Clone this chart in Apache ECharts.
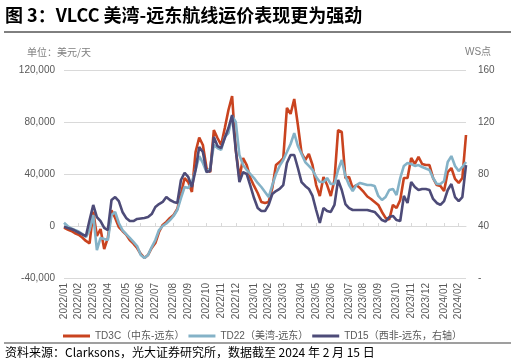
<!DOCTYPE html>
<html><head><meta charset="utf-8">
<script src="https://cdn.jsdelivr.net/npm/echarts@6/dist/echarts.min.js"></script>
<style>html,body{margin:0;padding:0;background:#fff}#c{width:516px;height:364px}</style>
</head><body><div id="c"></div>
<script>
// Weekly observations, 2022-01-07 .. 2024-02-16
const startDate = '2022-01-07';
const weekCount = 111;
// TD3C (Middle East - Far East), USD/day
const td3c = [-1300,-2700,-3800,-5600,-6700,-8800,-11500,-13300,11000,-7700,
-2300,-17700,-9200,12000,6200,-800,-3800,-6500,-10800,-13500,
-16900,-21500,-24600,-22300,-16900,-13100,-4600,800,3100,6200,
8500,13100,24600,36900,33800,26200,56900,68100,62300,44600,
41500,73800,67700,62300,75400,89200,100000,58500,36900,52300,
46900,36900,30800,25400,18500,17700,18500,29200,46900,49200,
52300,90800,86200,97700,77700,56200,50800,55400,46900,31500,
23100,37700,31500,23100,35400,73800,72300,36900,37700,29200,
31500,29200,26200,22700,20800,18500,16200,10800,6200,5000,
16200,13800,20000,36900,36900,52300,47700,53100,47700,46900,
46900,36900,31500,30800,26900,41500,44600,36200,33100,36900,
70000];
// TD22 (US Gulf - Far East), USD/day
const td22 = [2500,0,-1900,-3100,-4200,-6200,-8500,-3100,8500,-18500,
-9200,-10000,-10800,8500,10800,2300,-3100,-6200,-9200,-12300,
-15400,-22300,-24600,-22300,-16200,-10800,-3100,0,1900,4600,
7700,12300,21500,30000,29200,33800,43100,53800,48500,41500,
44600,62300,60000,58500,68500,71500,84600,80000,54600,46900,
43100,40000,36900,33100,30000,26200,22300,31500,40000,46200,
50800,56900,63100,71500,61500,55400,49200,46200,43100,37700,
33800,33800,36900,32300,32300,43100,50800,38500,31500,26900,
31500,33100,32300,31500,31500,30800,23100,20000,22300,27700,
28500,23800,36900,46200,48500,47700,46200,46900,45400,44200,
43100,36900,32300,32300,34600,49200,53800,46200,42300,45400,
49200];
// TD15 (West Africa - Far East), WS points, right axis
const td15 = [39.5,38.5,37.7,36.5,35,33.5,32.3,44.6,56.2,46.9,
43.8,38.5,36.9,60,62.3,59.2,50.8,46.2,43.8,43.8,
45.4,45.8,46.2,46.9,49.2,54.6,56.9,58.5,62.3,60,
58.5,57.7,75.4,80.8,77.7,70,83.1,100.8,96.9,81.5,
82.3,108.5,101.5,100,107.7,115.4,125.4,98.5,73.8,81.5,
80,70.8,61.5,53.8,51.5,51.5,56.2,64.6,66.9,68.5,
71.5,88.5,94.6,94.6,84.6,73.8,70.8,68.5,63.1,52.3,
42.3,53.8,51.5,50.8,56.2,75.4,67.7,56.9,53.8,52.3,
52.3,52.3,52.3,52.3,51.5,50.8,47.7,44.6,43.5,46.9,
47.7,44.6,43.8,63.1,57.7,73.8,70,67.7,68.5,68.5,
67.7,60.8,57.7,56.2,59.2,67.7,72.3,62.3,59.2,62.3,
86.9];
const seriesNames = ['TD3C（中东-远东）','TD22（美湾-远东）','TD15（西非-远东，右轴）'];
const leftTicks = {min:-40000, max:120000, interval:40000};
const rightTicks = {min:0, max:160, interval:40};

const categories = [];
(function(){
  const d = new Date(startDate + 'T00:00:00Z');
  for (let i = 0; i < weekCount; i++) {
    const t = new Date(d.getTime() + i*7*86400000);
    categories.push(t.toISOString().slice(0,10));
  }
})();
const firstOfMonth = categories.map((c,i)=> i===0 || c.slice(0,7)!==categories[i-1].slice(0,7));
const monthInterval = (idx)=> firstOfMonth[idx];

const FONT = "'Liberation Sans', Arial, 'Noto Sans CJK SC', sans-serif";
const C_RED = '#C9431F', C_BLUE = '#84B2C7', C_DARK = '#4D4B78';

const chart = echarts.init(document.getElementById('c'), null, {renderer:'canvas'});
chart.setOption({
  animation:false,
  textStyle:{fontFamily:FONT},
  grid:{left:64, right:50, top:70, bottom:86, containLabel:false},
  legend:{
    left:58, top:326, itemGap:4, itemWidth:27, itemHeight:3, icon:'rect',
    textStyle:{fontSize:10, color:'#595959', fontFamily:FONT},
    data:seriesNames
  },
  xAxis:[{
    type:'category', data:categories, boundaryGap:false,
    axisLine:{show:false, onZero:false}, axisTick:{show:false},
    axisLabel:{interval:monthInterval, rotate:90, fontSize:10, color:'#595959', margin:5,
      formatter:(v)=> v.slice(0,4)+'/'+v.slice(5,7)},
    splitLine:{show:false}
  },{
    type:'category', data:categories, boundaryGap:false, position:'top',
    axisLine:{show:true, onZero:true, lineStyle:{color:'#d9d9d9', width:1}},
    axisTick:{show:true, interval:monthInterval, length:3, lineStyle:{color:'#d9d9d9'}},
    axisLabel:{show:false}, splitLine:{show:false}
  }],
  yAxis:[{
    type:'value', min:leftTicks.min, max:leftTicks.max, interval:leftTicks.interval,
    axisLine:{show:false}, axisTick:{show:false},
    axisLabel:{fontSize:10, color:'#595959', margin:9,
      formatter:(v)=> v.toLocaleString('en-US')},
    splitLine:{lineStyle:{color:'#d9d9d9', width:1}}
  },{
    type:'value', min:rightTicks.min, max:rightTicks.max, interval:rightTicks.interval,
    axisLine:{show:false}, axisTick:{show:false},
    axisLabel:{fontSize:10, color:'#595959', margin:12,
      formatter:(v)=> v===0 ? '-' : String(v)},
    splitLine:{show:false}
  }],
  series:[
    {name:seriesNames[0], type:'line', data:td3c, yAxisIndex:0, xAxisIndex:0, symbol:'none',
     lineStyle:{color:C_RED, width:2.6}, itemStyle:{color:C_RED}},
    {name:seriesNames[1], type:'line', data:td22, yAxisIndex:0, xAxisIndex:0, symbol:'none',
     lineStyle:{color:C_BLUE, width:2.6}, itemStyle:{color:C_BLUE}},
    {name:seriesNames[2], type:'line', data:td15, yAxisIndex:1, xAxisIndex:0, symbol:'none',
     lineStyle:{color:C_DARK, width:2.6}, itemStyle:{color:C_DARK}}
  ],
  graphic:[
    {type:'text', left:5, top:6, style:{text:'图 3：VLCC 美湾-远东航线运价表现更为强劲',
      font:"bold 18px 'Noto Sans CJK SC', 'Liberation Sans', sans-serif", fill:'#000'}},
    {type:'line', shape:{x1:4, y1:32, x2:511, y2:32}, style:{stroke:'#000', lineWidth:1}},
    {type:'text', left:27, top:47, style:{text:'单位：美元/天',
      font:"10px 'Noto Sans CJK SC', sans-serif", fill:'#7f7f7f'}},
    {type:'text', left:465, top:47, style:{text:'WS点',
      font:"10px 'Liberation Sans', 'Noto Sans CJK SC', sans-serif", fill:'#7f7f7f'}},
    {type:'line', shape:{x1:4, y1:343, x2:511, y2:343}, style:{stroke:'#404040', lineWidth:1.2}},
    {type:'text', left:5, top:346, style:{text:'资料来源：Clarksons，光大证券研究所，数据截至 2024 年 2 月 15 日',
      font:"12px 'Noto Sans CJK SC', 'Liberation Sans', sans-serif", fill:'#000'}}
  ]
});
</script></body></html>
